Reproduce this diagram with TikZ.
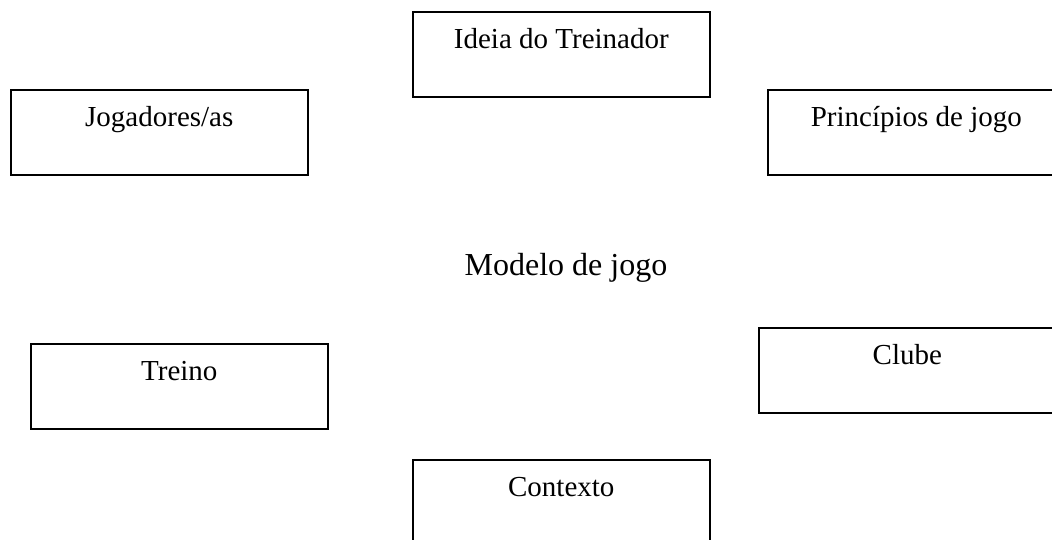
\documentclass[tikz,border=0pt]{standalone}
\usepackage{fontspec}
\setmainfont{Liberation Serif}
\begin{document}
\begin{tikzpicture}[x=1pt,y=-1pt,
  boxnode/.style={draw=black,line width=1.6pt,anchor=north west,inner sep=0pt,
    minimum width=297pt,text height=37pt,text depth=48pt,
    font=\fontsize{29}{34}\selectfont},
  titlenode/.style={anchor=base,inner sep=0pt,font=\fontsize{32}{38}\selectfont}]
\useasboundingbox (0,0) rectangle (1052,539);
\clip (0,0) rectangle (1052,539);
\node[boxnode] (ideia) at (412,11) {Ideia do Treinador};
\node[boxnode] (jog) at (10,89) {Jogadores/as};
\node[boxnode] (princ) at (767,89) {Princípios de jogo};
\node[titlenode] (modelo) at (566,275) {Modelo de jogo};
\node[boxnode] (treino) at (30,343) {Treino};
\node[boxnode] (clube) at (758,327) {Clube};
\node[boxnode] (contexto) at (412,459) {Contexto};
\end{tikzpicture}
\end{document}
